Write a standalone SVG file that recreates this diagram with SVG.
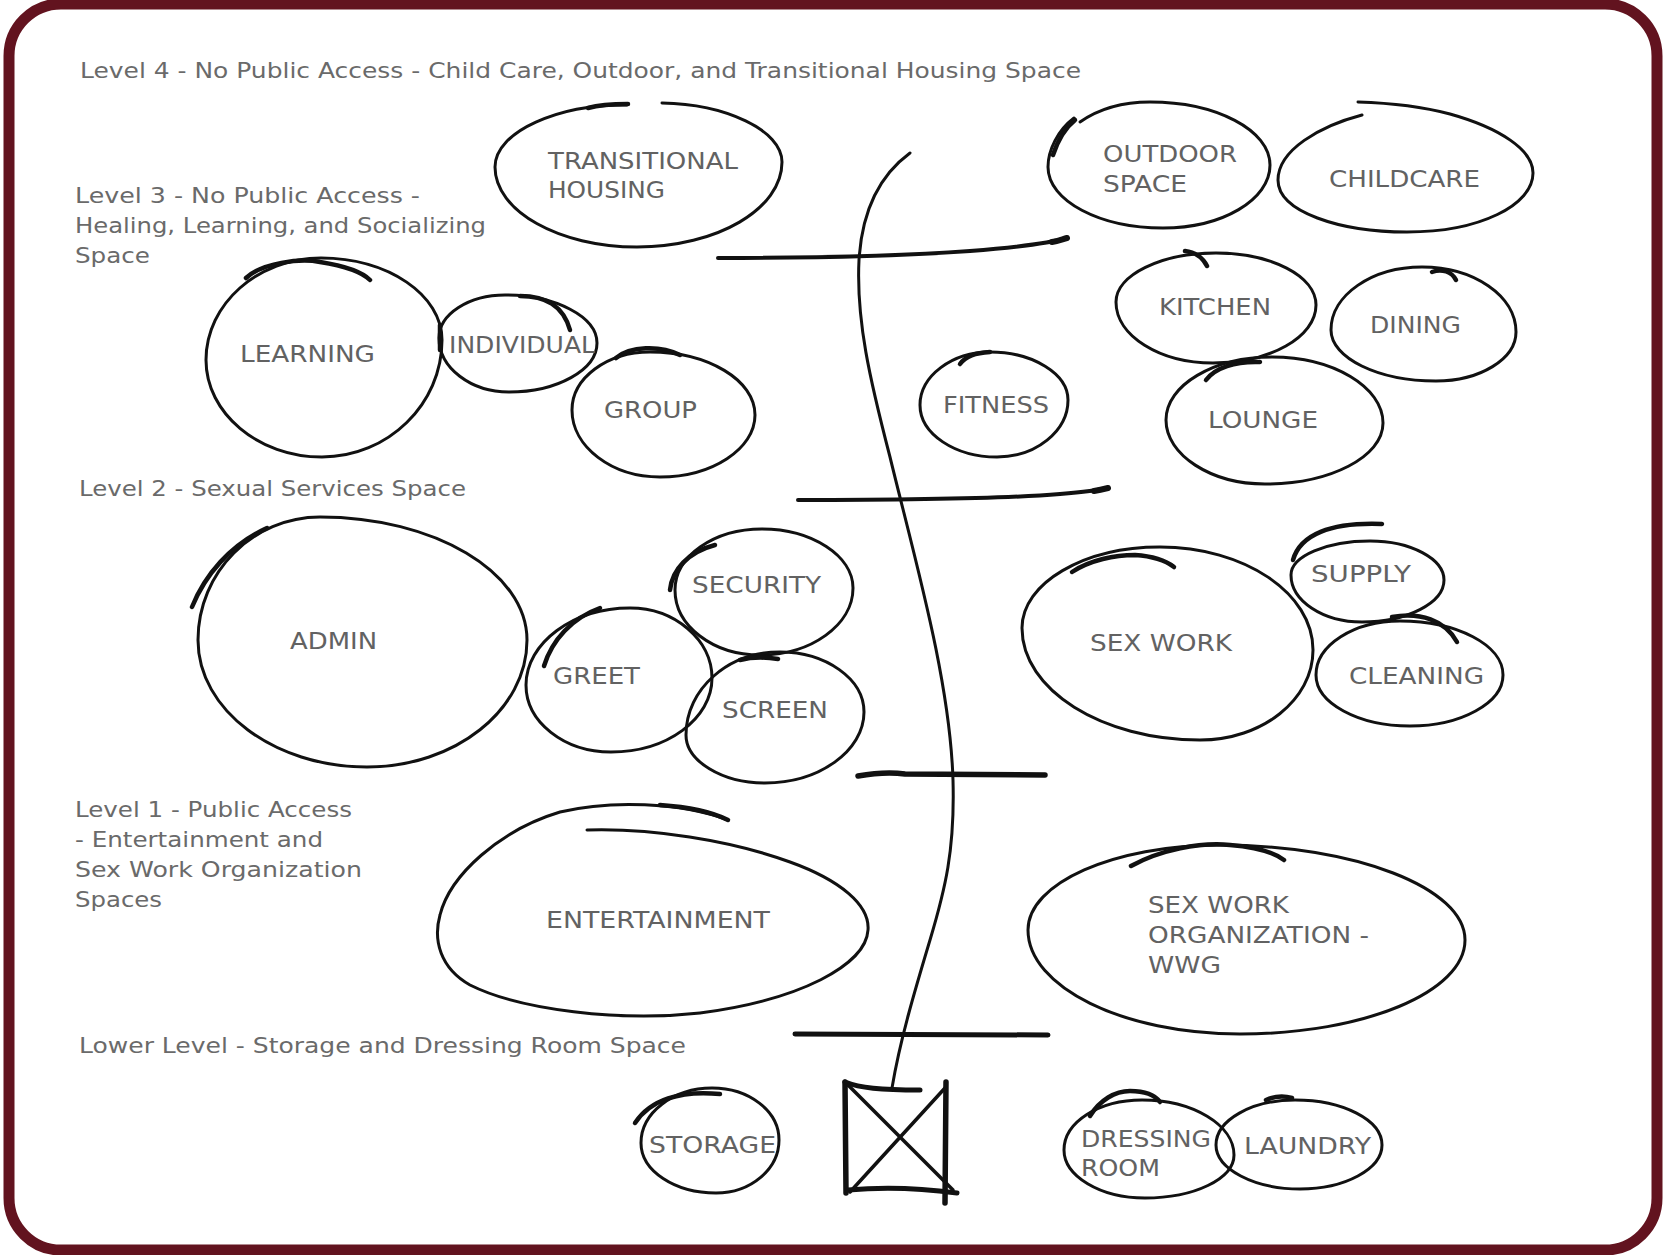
<svg xmlns="http://www.w3.org/2000/svg" width="1664" height="1255" viewBox="0 0 1664 1255">
  <style>
    .loop { fill: none; stroke: #111; stroke-width: 3; stroke-linecap: round; stroke-linejoin: round; }
    .tail { fill: none; stroke: #111; stroke-width: 4.5; stroke-linecap: round; }
    .conn { fill: none; stroke: #111; stroke-linecap: round; }
    .lvl { font-family: "DejaVu Sans", "Liberation Sans", sans-serif; font-size: 22px; fill: #6a6a6a; }
    .lbl { font-family: "DejaVu Sans", "Liberation Sans", sans-serif; font-size: 23px; fill: #626262; }
  </style>

  <rect x="0" y="0" width="1664" height="1255" fill="#fff"/>
  <rect x="9" y="4" width="1648" height="1246" rx="52" ry="52" fill="#fff" stroke="#62131f" stroke-width="11"/>

  <!-- level captions -->
  <g id="levels">
    <text class="lvl" x="80" y="78" textLength="1001" lengthAdjust="spacingAndGlyphs">Level 4 - No Public Access - Child Care, Outdoor, and Transitional Housing Space</text>
    <text class="lvl" x="75" y="203" textLength="345" lengthAdjust="spacingAndGlyphs">Level 3 - No Public Access -</text>
    <text class="lvl" x="75" y="233" textLength="411" lengthAdjust="spacingAndGlyphs">Healing, Learning, and Socializing</text>
    <text class="lvl" x="75" y="263" textLength="75" lengthAdjust="spacingAndGlyphs">Space</text>
    <text class="lvl" x="79" y="496" textLength="387" lengthAdjust="spacingAndGlyphs">Level 2 - Sexual Services Space</text>
    <text class="lvl" x="75" y="817" textLength="277" lengthAdjust="spacingAndGlyphs">Level 1 - Public Access</text>
    <text class="lvl" x="75" y="847" textLength="248" lengthAdjust="spacingAndGlyphs">- Entertainment and</text>
    <text class="lvl" x="75" y="877" textLength="287" lengthAdjust="spacingAndGlyphs">Sex Work Organization</text>
    <text class="lvl" x="75" y="907" textLength="87" lengthAdjust="spacingAndGlyphs">Spaces</text>
    <text class="lvl" x="79" y="1053" textLength="607" lengthAdjust="spacingAndGlyphs">Lower Level - Storage and Dressing Room Space</text>
  </g>

  <!-- circulation spine and floor separators -->
  <g id="connectors">
    <path class="conn" stroke-width="3" d="M910,153 C880,175 862,210 859,260 C856,320 870,380 890,457 C915,560 950,680 953,780 C955,850 945,890 930,940 C915,990 900,1040 892,1088"/>
    <path class="conn" stroke-width="4" d="M718,258 C800,258 900,256 970,251 C1020,247 1050,243 1067,238"/>
    <path class="conn" stroke-width="6" d="M1052,242 C1058,241 1063,239 1067,238"/>
    <path class="conn" stroke-width="4" d="M798,500 C900,500 1000,499 1060,494 C1085,492 1100,490 1108,488"/>
    <path class="conn" stroke-width="6" d="M1094,491 C1100,490 1104,489 1108,488"/>
    <path class="conn" stroke-width="5.5" d="M858,776 C875,773 890,772 905,774 L1045,775"/>
    <path class="conn" stroke-width="5" d="M795,1034 L1048,1035"/>
  </g>

  <!-- elevator -->
  <g id="elevator" class="conn">
    <path stroke-width="5.5" d="M845,1082 L846,1193"/>
    <path stroke-width="5" d="M845,1082 C860,1088 880,1090 920,1090"/>
    <path stroke-width="5.5" d="M946,1082 L945,1203"/>
    <path stroke-width="5" d="M848,1190 C880,1187 920,1188 957,1193"/>
    <path stroke-width="3.5" d="M848,1085 L953,1190"/>
    <path stroke-width="3.5" d="M945,1088 L850,1192"/>
  </g>

  <!-- Level 4 -->
  <g id="transitional-housing">
    <path class="loop" d="M662,103 C725,104 782,130 782,162 C782,209 717,247 637,247 C559,247 495,211 495,167 C495,131 560,104 627,105"/>
    <path class="tail" d="M588,108 C602,104 615,104 628,104"/>
    <text class="lbl" x="548" y="169" textLength="190" lengthAdjust="spacingAndGlyphs">TRANSITIONAL</text>
    <text class="lbl" x="548" y="198" textLength="117" lengthAdjust="spacingAndGlyphs">HOUSING</text>
  </g>
  <g id="outdoor-space">
    <path class="loop" d="M1080,122 C1100,108 1125,102 1150,102 C1216,102 1270,130 1270,165 C1270,200 1222,228 1163,228 C1100,228 1048,201 1048,167 C1048,150 1058,130 1074,118"/>
    <path class="tail" d="M1053,155 C1058,140 1065,128 1075,120"/>
    <text class="lbl" x="1103" y="162" textLength="134" lengthAdjust="spacingAndGlyphs">OUTDOOR</text>
    <text class="lbl" x="1103" y="192" textLength="84" lengthAdjust="spacingAndGlyphs">SPACE</text>
  </g>
  <g id="childcare">
    <path class="loop" d="M1362,115 C1320,126 1278,150 1278,180 C1278,212 1340,232 1407,232 C1480,232 1533,205 1533,173 C1533,150 1500,128 1450,114 C1420,106 1390,103 1358,102"/>
    <text class="lbl" x="1329" y="187" textLength="151" lengthAdjust="spacingAndGlyphs">CHILDCARE</text>
  </g>

  <!-- Level 3 -->
  <g id="learning">
    <path class="loop" d="M206,360 C206,304 258,258 321,258 C388,258 442,295 442,340 C442,404 388,457 322,457 C258,457 206,413 206,360 Z"/>
    <path class="tail" d="M246,278 C262,263 300,258 320,262 C345,266 362,272 370,280"/>
    <text class="lbl" x="240" y="362" textLength="135" lengthAdjust="spacingAndGlyphs">LEARNING</text>
  </g>
  <g id="individual">
    <path class="loop" d="M439,338 C439,314 469,295 505,295 C556,295 597,317 597,343 C597,370 557,392 509,392 C471,392 439,368 439,338 Z"/>
    <path class="tail" d="M520,296 C545,296 563,305 570,330"/>
    <path class="tail" d="M440,325 L440,350"/>
    <text class="lbl" x="449" y="353" textLength="146" lengthAdjust="spacingAndGlyphs">INDIVIDUAL</text>
  </g>
  <g id="group">
    <path class="loop" d="M572,410 C572,378 607,352 650,352 C708,352 755,380 755,415 C755,449 712,477 660,477 C612,477 572,447 572,410 Z"/>
    <path class="tail" d="M616,358 C630,346 660,345 680,355"/>
    <text class="lbl" x="604" y="418" textLength="93" lengthAdjust="spacingAndGlyphs">GROUP</text>
  </g>
  <g id="fitness">
    <path class="loop" d="M920,405 C920,376 952,352 990,352 C1033,352 1068,374 1068,400 C1068,431 1036,457 997,457 C955,457 920,434 920,405 Z"/>
    <path class="tail" d="M960,364 C966,356 975,353 990,352"/>
    <text class="lbl" x="943" y="413" textLength="106" lengthAdjust="spacingAndGlyphs">FITNESS</text>
  </g>
  <g id="kitchen">
    <path class="loop" d="M1116,302 C1116,275 1161,253 1216,253 C1271,253 1316,276 1316,305 C1316,337 1270,363 1213,363 C1160,363 1116,336 1116,302 Z"/>
    <path class="tail" d="M1185,251 C1195,252 1203,258 1207,266"/>
    <text class="lbl" x="1159" y="315" textLength="112" lengthAdjust="spacingAndGlyphs">KITCHEN</text>
  </g>
  <g id="dining">
    <path class="loop" d="M1331,330 C1331,295 1372,267 1422,267 C1474,267 1516,296 1516,332 C1516,359 1480,381 1436,381 C1378,381 1331,358 1331,330 Z"/>
    <path class="tail" d="M1432,272 C1442,268 1452,272 1456,280"/>
    <text class="lbl" x="1370" y="333" textLength="91" lengthAdjust="spacingAndGlyphs">DINING</text>
  </g>
  <g id="lounge">
    <path class="loop" d="M1166,420 C1166,385 1214,357 1272,357 C1333,357 1383,387 1383,423 C1383,457 1330,484 1265,484 C1211,484 1166,455 1166,420 Z"/>
    <path class="tail" d="M1206,380 C1215,368 1235,361 1260,362"/>
    <text class="lbl" x="1208" y="428" textLength="110" lengthAdjust="spacingAndGlyphs">LOUNGE</text>
  </g>

  <!-- Level 2 -->
  <g id="admin">
    <path class="loop" d="M198,640 C198,572 253,517 320,517 C434,517 527,572 527,640 C527,710 455,767 367,767 C274,767 198,710 198,640 Z"/>
    <path class="tail" d="M192,607 C205,575 230,545 267,528"/>
    <text class="lbl" x="290" y="649" textLength="87" lengthAdjust="spacingAndGlyphs">ADMIN</text>
  </g>
  <g id="security">
    <path class="loop" d="M675,590 C675,556 714,529 762,529 C812,529 853,556 853,588 C853,625 811,655 760,655 C713,655 675,626 675,590 Z"/>
    <path class="tail" d="M670,590 C672,570 688,552 715,545"/>
    <text class="lbl" x="692" y="593" textLength="129" lengthAdjust="spacingAndGlyphs">SECURITY</text>
  </g>
  <g id="greet">
    <path class="loop" d="M526,685 C526,643 573,608 630,608 C675,608 712,640 712,678 C712,719 667,752 611,752 C564,752 526,722 526,685 Z"/>
    <path class="tail" d="M544,666 C552,640 572,618 600,608"/>
    <text class="lbl" x="553" y="684" textLength="87" lengthAdjust="spacingAndGlyphs">GREET</text>
  </g>
  <g id="screen">
    <path class="loop" d="M686,735 C686,689 728,652 780,652 C826,652 864,679 864,712 C864,751 819,783 765,783 C722,783 686,761 686,735 Z"/>
    <path class="tail" d="M740,660 C752,657 765,657 778,659"/>
    <text class="lbl" x="722" y="718" textLength="106" lengthAdjust="spacingAndGlyphs">SCREEN</text>
  </g>
  <g id="sex-work">
    <path class="loop" d="M1022,628 C1022,583 1084,547 1160,547 C1244,547 1313,593 1313,650 C1313,700 1262,740 1200,740 C1102,740 1022,690 1022,628 Z"/>
    <path class="tail" d="M1072,572 C1090,560 1115,555 1135,555 C1150,556 1165,560 1174,567"/>
    <text class="lbl" x="1090" y="651" textLength="142" lengthAdjust="spacingAndGlyphs">SEX WORK</text>
  </g>
  <g id="supply">
    <path class="loop" d="M1291,575 C1291,556 1327,541 1370,541 C1411,541 1444,559 1444,580 C1444,603 1407,622 1362,622 C1323,622 1291,601 1291,575 Z"/>
    <path class="tail" d="M1293,560 C1300,535 1330,522 1382,524"/>
    <text class="lbl" x="1311" y="582" textLength="100" lengthAdjust="spacingAndGlyphs">SUPPLY</text>
  </g>
  <g id="cleaning">
    <path class="loop" d="M1316,675 C1316,645 1354,621 1400,621 C1457,621 1503,645 1503,675 C1503,703 1461,726 1410,726 C1358,726 1316,703 1316,675 Z"/>
    <path class="tail" d="M1392,617 C1420,612 1445,620 1457,642"/>
    <text class="lbl" x="1349" y="684" textLength="135" lengthAdjust="spacingAndGlyphs">CLEANING</text>
  </g>

  <!-- Level 1 -->
  <g id="entertainment">
    <path class="loop" d="M587,830 C650,828 730,840 790,862 C840,880 870,905 868,930 C866,965 800,1000 700,1013 C620,1022 520,1010 470,985 C440,968 433,940 440,915 C450,875 500,830 560,812 C610,800 680,802 728,820"/>
    <path class="tail" d="M660,805 C690,807 712,812 728,820"/>
    <text class="lbl" x="546" y="928" textLength="224" lengthAdjust="spacingAndGlyphs">ENTERTAINMENT</text>
  </g>
  <g id="sex-work-organization">
    <path class="loop" d="M1028,930 C1028,883 1114,845 1220,845 C1355,845 1465,888 1465,940 C1465,992 1364,1034 1240,1034 C1123,1034 1028,987 1028,930 Z"/>
    <path class="tail" d="M1131,866 C1160,850 1200,842 1230,845 C1255,847 1272,851 1284,860"/>
    <text class="lbl" x="1148" y="913" textLength="141" lengthAdjust="spacingAndGlyphs">SEX WORK</text>
    <text class="lbl" x="1148" y="943" textLength="221" lengthAdjust="spacingAndGlyphs">ORGANIZATION -</text>
    <text class="lbl" x="1148" y="973" textLength="73" lengthAdjust="spacingAndGlyphs">WWG</text>
  </g>

  <!-- Lower level -->
  <g id="storage">
    <path class="loop" d="M641,1143 C641,1113 673,1088 712,1088 C749,1088 779,1111 779,1140 C779,1169 751,1193 716,1193 C675,1193 641,1171 641,1143 Z"/>
    <path class="tail" d="M635,1123 C650,1100 680,1090 720,1094"/>
    <text class="lbl" x="649" y="1153" textLength="127" lengthAdjust="spacingAndGlyphs">STORAGE</text>
  </g>
  <g id="dressing-room">
    <path class="loop" d="M1064,1150 C1064,1122 1099,1100 1142,1100 C1193,1100 1234,1125 1234,1155 C1234,1179 1194,1198 1145,1198 C1100,1198 1064,1176 1064,1150 Z"/>
    <path class="tail" d="M1090,1116 C1100,1100 1115,1091 1130,1091 C1145,1091 1155,1095 1160,1102"/>
    <text class="lbl" x="1081" y="1147" textLength="130" lengthAdjust="spacingAndGlyphs">DRESSING</text>
    <text class="lbl" x="1081" y="1176" textLength="79" lengthAdjust="spacingAndGlyphs">ROOM</text>
  </g>
  <g id="laundry">
    <path class="loop" d="M1216,1145 C1216,1120 1252,1100 1295,1100 C1343,1100 1382,1120 1382,1145 C1382,1169 1345,1189 1300,1189 C1254,1189 1216,1169 1216,1145 Z"/>
    <path class="tail" d="M1266,1100 C1275,1096 1285,1096 1292,1098"/>
    <text class="lbl" x="1244" y="1154" textLength="127" lengthAdjust="spacingAndGlyphs">LAUNDRY</text>
  </g>
</svg>
